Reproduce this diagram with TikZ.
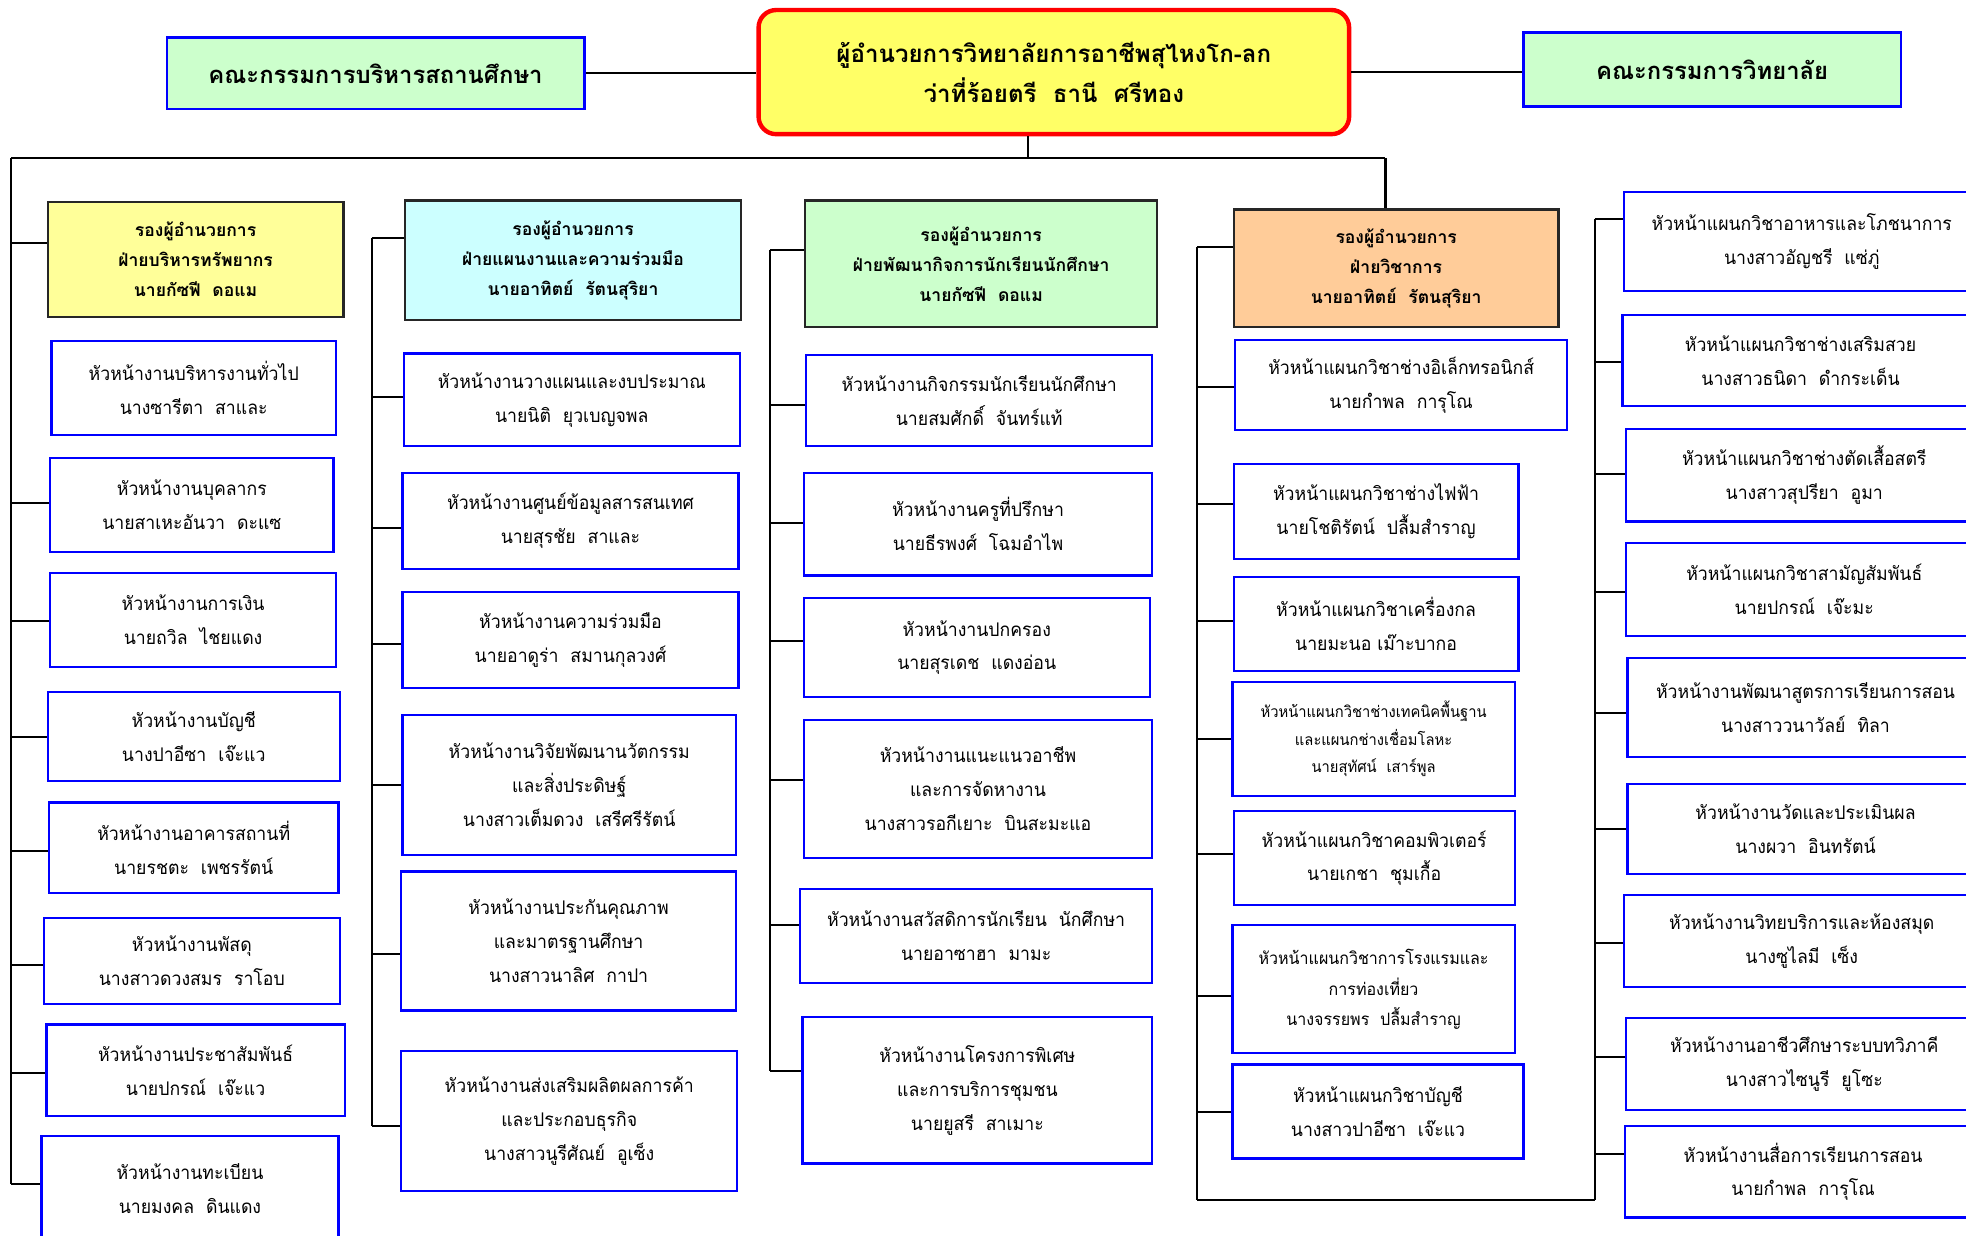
\documentclass[tikz,border=0pt]{standalone}
\usepackage{tikz}
\usepackage{fontspec}
\newfontfamily\thai[Script=Thai]{Loma}
\newfontfamily\thain[Script=Thai, FakeStretch=0.94]{Loma}
\definecolor{bossyellow}{HTML}{FFFF66}
\definecolor{commgreen}{HTML}{CCFFCC}
\definecolor{depyellow}{HTML}{FFFF99}
\definecolor{depcyan}{HTML}{CCFFFF}
\definecolor{depgreen}{HTML}{CCFFCC}
\definecolor{deporange}{HTML}{FFCC99}
\tikzset{
  conn/.style={line width=1.6pt},
  wh/.style 2 args={minimum width=#1, minimum height=#2},
  sub/.style={draw=blue, line width=1.8pt, fill=white, align=center, inner sep=0pt, font=\thain\fontsize{15}{27}\selectfont},
  subsmall/.style={sub, font=\thain\fontsize{12.5}{22}\selectfont},
  submid/.style={sub, font=\thain\fontsize{13.6}{24}\selectfont},
  dep/.style={draw=black!85, line width=1.8pt, align=center, inner sep=0pt, font=\thai\bfseries\fontsize{14}{24}\selectfont},
  comm/.style={draw=blue, fill=commgreen, line width=2pt, align=center, inner sep=0pt, font=\thai\bfseries\fontsize{19}{28}\selectfont},
  boss/.style={draw=red, fill=bossyellow, line width=3.5pt, rounded corners=14pt, align=center, inner sep=0pt, font=\thai\bfseries\fontsize{19.2}{32}\selectfont}
}
\begin{document}
\begin{tikzpicture}[x=1pt,y=-1pt]
  \useasboundingbox[fill=white] (0,0) rectangle (1568,985);

  \path (299.5,58.5) node[comm, wh={333}{57}] (comm1) {คณะกรรมการบริหารสถานศึกษา};
  \path (840.5,57.5) node[boss, wh={471}{99}] (dir) {ผู้อำนวยการวิทยาลัยการอาชีพสุไหงโก-ลก\\ว่าที่ร้อยตรี~~ธานี~~ศรีทอง};
  \path (1365.5,55.5) node[comm, wh={301}{59}] (comm2) {คณะกรรมการวิทยาลัย};
  \draw[conn] (comm1.east) -- (comm1.east -| dir.west);
  \draw[conn] (dir.east) -- (dir.east -| comm2.west);

  \path (820,126) coordinate (dd);
  \path (9,126) coordinate (bus0);
  \path (1105,126) coordinate (bus1);
  \draw[conn] (dd) -- (dd |- dir.south);
  \draw[conn] (bus0) -- (bus1);

  \path (156,207) node[dep, fill=depyellow, wh={236}{92}] (dep1) {รองผู้อำนวยการ\\ฝ่ายบริหารทรัพยากร\\นายกัซฟี~~ดอแม};
  \path (154.5,309.5) node[sub, wh={227}{75}] (s1) {หัวหน้างานบริหารงานทั่วไป\\นางซารีตา~~สาและ};
  \path (153,402.5) node[sub, wh={226}{75}] (s2) {หัวหน้างานบุคลากร\\นายสาเหะอันวา~~ดะแซ};
  \path (154,494.5) node[sub, wh={228}{75}] (s3) {หัวหน้างานการเงิน\\นายถวิล~~ไชยแดง};
  \path (154.5,587.5) node[sub, wh={233}{71}] (s4) {หัวหน้างานบัญชี\\นางปาอีซา~~เจ๊ะแว};
  \path (154.5,676) node[sub, wh={231}{72}] (s5) {หัวหน้างานอาคารสถานที่\\นายรชตะ~~เพชรรัตน์};
  \path (153,766.5) node[sub, wh={236}{69}] (s6) {หัวหน้างานพัสดุ\\นางสาวดวงสมร~~ราโอบ};
  \path (156,853.5) node[sub, wh={238}{73}] (s7) {หัวหน้างานประชาสัมพันธ์\\นายปกรณ์~~เจ๊ะแว};
  \path (151.5,948) node[sub, wh={237}{84}] (s8) {หัวหน้างานทะเบียน\\นายมงคล~~ดินแดง};

  \path (9,194) coordinate (jdep1);
  \path (9,401) coordinate (js2);
  \path (9,495) coordinate (js3);
  \path (9,588) coordinate (js4);
  \path (9,679) coordinate (js5);
  \path (9,770) coordinate (js6);
  \path (9,856) coordinate (js7);
  \path (9,944) coordinate (js8);
  \draw[conn] (bus0) -- (js8);
  \draw[conn] (jdep1) -- (jdep1 -| dep1.west);
  \draw[conn] (js2) -- (js2 -| s2.west);
  \draw[conn] (js3) -- (js3 -| s3.west);
  \draw[conn] (js4) -- (js4 -| s4.west);
  \draw[conn] (js5) -- (js5 -| s5.west);
  \draw[conn] (js6) -- (js6 -| s6.west);
  \draw[conn] (js7) -- (js7 -| s7.west);
  \draw[conn] (js8) -- (js8 -| s8.west);

  \path (457,207.5) node[dep, fill=depcyan, wh={268}{95}] (dep2) {รองผู้อำนวยการ\\ฝ่ายแผนงานและความร่วมมือ\\นายอาทิตย์~~รัตนสุริยา};
  \path (456,319) node[sub, wh={268}{74}] (t1) {หัวหน้างานวางแผนและงบประมาณ\\นายนิติ~~ยุวเบญจพล};
  \path (455,415.5) node[sub, wh={268}{77}] (t2) {หัวหน้างานศูนย์ข้อมูลสารสนเทศ\\นายสุรชัย~~สาและ};
  \path (455,510.5) node[sub, wh={268}{77}] (t3) {หัวหน้างานความร่วมมือ\\นายอาดูร่า~~สมานกุลวงศ์};
  \path (454,626) node[sub, wh={266}{112}] (t4) {หัวหน้างานวิจัยพัฒนานวัตกรรม\\และสิ่งประดิษฐ์\\นางสาวเต็มดวง~~เสรีศรีรัตน์};
  \path (453.5,750.5) node[sub, wh={267}{111}] (t5) {หัวหน้างานประกันคุณภาพ\\และมาตรฐานศึกษา\\นางสาวนาลิศ~~กาปา};
  \path (454,894) node[sub, wh={268}{112}] (t6) {หัวหน้างานส่งเสริมผลิตผลการค้า\\และประกอบธุรกิจ\\นางสาวนูรีศัณย์~~อูเซ็ง};

  \path (296.5,190) coordinate (jdep2);
  \path (296.5,317) coordinate (jt1);
  \path (296.5,421) coordinate (jt2);
  \path (296.5,514) coordinate (jt3);
  \path (296.5,626) coordinate (jt4);
  \path (296.5,761) coordinate (jt5);
  \path (296.5,898) coordinate (jt6);
  \draw[conn] (jdep2) -- (jt6);
  \draw[conn] (jdep2) -- (jdep2 -| dep2.west);
  \draw[conn] (jt1) -- (jt1 -| t1.west);
  \draw[conn] (jt2) -- (jt2 -| t2.west);
  \draw[conn] (jt3) -- (jt3 -| t3.west);
  \draw[conn] (jt4) -- (jt4 -| t4.west);
  \draw[conn] (jt5) -- (jt5 -| t5.west);
  \draw[conn] (jt6) -- (jt6 -| t6.west);

  \path (782.5,210.5) node[dep, fill=depgreen, wh={281}{101}] (dep3) {รองผู้อำนวยการ\\ฝ่ายพัฒนากิจการนักเรียนนักศึกษา\\นายกัซฟี~~ดอแม};
  \path (781,319.5) node[sub, wh={276}{73}] (u1) {หัวหน้างานกิจกรรมนักเรียนนักศึกษา\\นายสมศักดิ์~~จันทร์แท้};
  \path (780,418) node[sub, wh={278}{82}] (u2) {หัวหน้างานครูที่ปรึกษา\\นายธีรพงศ์~~โฉมอำไพ};
  \path (779,516.5) node[sub, wh={276}{79}] (u3) {หัวหน้างานปกครอง\\นายสุรเดช~~แดงอ่อน};
  \path (780,629) node[sub, wh={278}{110}] (u4) {หัวหน้างานแนะแนวอาชีพ\\และการจัดหางาน\\นางสาวรอกีเยาะ~~บินสะมะแอ};
  \path (778.5,746.5) node[sub, wh={281}{75}] (u5) {หัวหน้างานสวัสดิการนักเรียน~~นักศึกษา\\นายอาซาฮา~~มามะ};
  \path (779.5,869.5) node[sub, wh={279}{117}] (u6) {หัวหน้างานโครงการพิเศษ\\และการบริการชุมชน\\นายยูสรี~~สาเมาะ};

  \path (614,199) coordinate (jdep3);
  \path (614,323) coordinate (ju1);
  \path (614,417) coordinate (ju2);
  \path (614,511) coordinate (ju3);
  \path (614,622) coordinate (ju4);
  \path (614,738) coordinate (ju5);
  \path (614,854) coordinate (ju6);
  \draw[conn] (jdep3) -- (ju6);
  \draw[conn] (jdep3) -- (jdep3 -| dep3.west);
  \draw[conn] (ju1) -- (ju1 -| u1.west);
  \draw[conn] (ju2) -- (ju2 -| u2.west);
  \draw[conn] (ju3) -- (ju3 -| u3.west);
  \draw[conn] (ju4) -- (ju4 -| u4.west);
  \draw[conn] (ju5) -- (ju5 -| u5.west);
  \draw[conn] (ju6) -- (ju6 -| u6.west);

  \path (1113.5,214) node[dep, fill=deporange, wh={259}{94}] (dep4) {รองผู้อำนวยการ\\ฝ่ายวิชาการ\\นายอาทิตย์~~รัตนสุริยา};
  \path (1117.5,307) node[sub, wh={265}{72}] (v1) {หัวหน้าแผนกวิชาช่างอิเล็กทรอนิกส์\\นายกำพล~~การุโณ};
  \path (1097.5,408) node[sub, wh={227}{76}] (v2) {หัวหน้าแผนกวิชาช่างไฟฟ้า\\นายโชติรัตน์~~ปลื้มสำราญ};
  \path (1097.5,497.5) node[sub, wh={227}{75}] (v3) {หัวหน้าแผนกวิชาเครื่องกล\\นายมะนอ เม๊าะบากอ};
  \path (1095.5,589.5) node[subsmall, wh={225}{91}] (v4) {หัวหน้าแผนกวิชาช่างเทคนิคพื้นฐาน\\และแผนกช่างเชื่อมโลหะ\\นายสุทัศน์~~เสาร์พูล};
  \path (1096,684.5) node[sub, wh={224}{75}] (v5) {หัวหน้าแผนกวิชาคอมพิวเตอร์\\นายเกชา~~ชุมเกื้อ};
  \path (1095.5,789) node[submid, wh={225}{102}] (v6) {หัวหน้าแผนกวิชาการโรงแรมและ\\การท่องเที่ยว\\นางจรรยพร~~ปลื้มสำราญ};
  \path (1099,886.5) node[sub, wh={232}{75}] (v7) {หัวหน้าแผนกวิชาบัญชี\\นางสาวปาอีซา~~เจ๊ะแว};

  \draw[conn] (bus1) -- (bus1 |- dep4.north);
  \path (955,197) coordinate (jdep4);
  \path (955,309) coordinate (jv1);
  \path (955,402) coordinate (jv2);
  \path (955,495) coordinate (jv3);
  \path (955,589) coordinate (jv4);
  \path (955,681) coordinate (jv5);
  \path (955,794) coordinate (jv6);
  \path (955,887) coordinate (jv7);
  \path (955,957) coordinate (jbot4);
  \draw[conn] (jdep4) -- (jbot4);
  \draw[conn] (jdep4) -- (jdep4 -| dep4.west);
  \draw[conn] (jv1) -- (jv1 -| v1.west);
  \draw[conn] (jv2) -- (jv2 -| v2.west);
  \draw[conn] (jv3) -- (jv3 -| v3.west);
  \draw[conn] (jv4) -- (jv4 -| v4.west);
  \draw[conn] (jv5) -- (jv5 -| v5.west);
  \draw[conn] (jv6) -- (jv6 -| v6.west);
  \draw[conn] (jv7) -- (jv7 -| v7.west);

  \path (1437,192.5) node[sub, wh={284}{79}] (w1) {หัวหน้าแผนกวิชาอาหารและโภชนาการ\\นางสาวอัญชรี~~แซ่ภู่};
  \path (1436,287.5) node[sub, wh={284}{73}] (w2) {หัวหน้าแผนกวิชาช่างเสริมสวย\\นางสาวธนิดา~~ดำกระเด็น};
  \path (1439,379) node[sub, wh={284}{74}] (w3) {หัวหน้าแผนกวิชาช่างตัดเสื้อสตรี\\นางสาวสุปรียา~~อูมา};
  \path (1439,470) node[sub, wh={284}{74}] (w4) {หัวหน้าแผนกวิชาสามัญสัมพันธ์\\นายปกรณ์~~เจ๊ะมะ};
  \path (1440,564.5) node[sub, wh={284}{79}] (w5) {หัวหน้างานพัฒนาสูตรการเรียนการสอน\\นางสาววนาวัลย์~~ทิลา};
  \path (1440,661) node[sub, wh={284}{72}] (w6) {หัวหน้างานวัดและประเมินผล\\นางผวา~~อินทรัตน์};
  \path (1437,750.5) node[sub, wh={284}{73}] (w7) {หัวหน้างานวิทยบริการและห้องสมุด\\นางซูไลมี~~เซ็ง};
  \path (1439,848.5) node[sub, wh={284}{73}] (w8) {หัวหน้างานอาชีวศึกษาระบบทวิภาคี\\นางสาวไซนูรี~~ยูโซะ};
  \path (1438,934.5) node[sub, wh={284}{73}] (w9) {หัวหน้างานสื่อการเรียนการสอน\\นายกำพล~~การุโณ};

  \path (1272,175) coordinate (jw1);
  \path (1272,289) coordinate (jw2);
  \path (1272,378) coordinate (jw3);
  \path (1272,472) coordinate (jw4);
  \path (1272,569) coordinate (jw5);
  \path (1272,661) coordinate (jw6);
  \path (1272,752) coordinate (jw7);
  \path (1272,843) coordinate (jw8);
  \path (1272,920) coordinate (jw9);
  \path (1272,957) coordinate (jbot5);
  \draw[conn] (jw1) -- (jbot5);
  \draw[conn] (jbot4) -- (jbot5);
  \draw[conn] (jw1) -- (jw1 -| w1.west);
  \draw[conn] (jw2) -- (jw2 -| w2.west);
  \draw[conn] (jw3) -- (jw3 -| w3.west);
  \draw[conn] (jw4) -- (jw4 -| w4.west);
  \draw[conn] (jw5) -- (jw5 -| w5.west);
  \draw[conn] (jw6) -- (jw6 -| w6.west);
  \draw[conn] (jw7) -- (jw7 -| w7.west);
  \draw[conn] (jw8) -- (jw8 -| w8.west);
  \draw[conn] (jw9) -- (jw9 -| w9.west);
\end{tikzpicture}
\end{document}
